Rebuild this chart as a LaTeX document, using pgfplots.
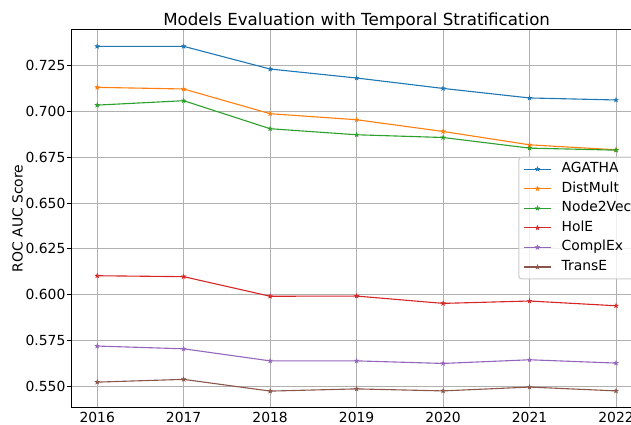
\documentclass[border=0pt]{standalone}
\usepackage{fontspec}
\setmainfont{DejaVu Sans}
\usepackage{pgfplots}
\pgfplotsset{compat=1.18}
\definecolor{c0}{HTML}{1F77B4}
\definecolor{c1}{HTML}{FF7F0E}
\definecolor{c2}{HTML}{2CA02C}
\definecolor{c3}{HTML}{D62728}
\definecolor{c4}{HTML}{9467BD}
\definecolor{c5}{HTML}{8C564B}
\definecolor{gridc}{HTML}{B0B0B0}
\definecolor{legc}{HTML}{CCCCCC}
\pgfdeclareplotmark{mplstar}{%
  \pgfpathmoveto{\pgfpointpolar{90}{\pgfplotmarksize}}%
  \pgfpathlineto{\pgfpointpolar{126}{0.382\pgfplotmarksize}}%
  \pgfpathlineto{\pgfpointpolar{162}{\pgfplotmarksize}}%
  \pgfpathlineto{\pgfpointpolar{198}{0.382\pgfplotmarksize}}%
  \pgfpathlineto{\pgfpointpolar{234}{\pgfplotmarksize}}%
  \pgfpathlineto{\pgfpointpolar{270}{0.382\pgfplotmarksize}}%
  \pgfpathlineto{\pgfpointpolar{306}{\pgfplotmarksize}}%
  \pgfpathlineto{\pgfpointpolar{342}{0.382\pgfplotmarksize}}%
  \pgfpathlineto{\pgfpointpolar{18}{\pgfplotmarksize}}%
  \pgfpathlineto{\pgfpointpolar{54}{0.382\pgfplotmarksize}}%
  \pgfpathclose\pgfusepathqfillstroke}
\begin{document}
\begin{tikzpicture}
\begin{axis}[
  scale only axis, width=410.9pt, height=272.2pt,
  xmin=2015.7, xmax=2022.3, ymin=0.5384, ymax=0.7449,
  xtick={2016,2017,2018,2019,2020,2021,2022},
  ytick={0.550,0.575,0.600,0.625,0.650,0.675,0.700,0.725},
  grid=major, major grid style={color=gridc, line width=0.75pt},
  axis line style={line width=0.8pt},
  tick align=inside, tick pos=left, major tick length=3.4pt,
  xtick style={draw=none},
  ytick style={black, line width=0.8pt, xshift=-3.4pt},
  /pgf/number format/assume math mode=true,
  xticklabel style={font=\fontsize{10}{12}\selectfont, /pgf/number format/1000 sep={},
    anchor=north, inner sep=0pt, yshift=-3.4pt},
  yticklabel style={font=\fontsize{10}{12}\selectfont, anchor=east, inner sep=0pt, xshift=-4pt,
    /pgf/number format/fixed, /pgf/number format/fixed zerofill, /pgf/number format/precision=3},
  ylabel={ROC AUC Score},
  ylabel style={font=\fontsize{10}{12}\selectfont, at={(rel axis cs:0,0.5)}, anchor=center, yshift=38.7pt},
  title={Models Evaluation with Temporal Stratification},
  title style={font=\fontsize{12}{14}\selectfont, at={(0.5,1)}, anchor=base, yshift=-3.6pt},
  every axis plot/.append style={line width=0.8pt, mark=mplstar, mark size=1.7pt, mark options={line width=0.3pt}},
  legend cell align=left,
  legend image code/.code={\draw[mark repeat=2,mark phase=2,#1] plot coordinates {(0pt,0pt)(10pt,0pt)(20pt,0pt)};},
  legend style={at={(0.7833,0.663)}, anchor=north west, draw=legc, line width=0.8pt,
    rounded corners=2pt, fill=white, fill opacity=0.8, text opacity=1,
    font=\fontsize{10}{12}\selectfont, inner xsep=3pt, inner ysep=2pt, row sep=1.1pt,
    nodes={inner xsep=2pt, inner ysep=1.5pt, text height=7.5pt, text depth=2.5pt},
    /tikz/every odd column/.append style={column sep=5pt}},
]
\addplot[color=c0] coordinates {(2016,0.7356)(2017,0.7356)(2018,0.7232)(2019,0.7183)(2020,0.7126)(2021,0.7074)(2022,0.7063)};
\addlegendentry{AGATHA}
\addplot[color=c1] coordinates {(2016,0.7132)(2017,0.7123)(2018,0.6988)(2019,0.6955)(2020,0.6891)(2021,0.6818)(2022,0.6791)};
\addlegendentry{DistMult}
\addplot[color=c2] coordinates {(2016,0.7035)(2017,0.7059)(2018,0.6906)(2019,0.6873)(2020,0.6858)(2021,0.6800)(2022,0.6789)};
\addlegendentry{Node2Vec}
\addplot[color=c3] coordinates {(2016,0.6103)(2017,0.6098)(2018,0.5991)(2019,0.5992)(2020,0.5952)(2021,0.5965)(2022,0.5939)};
\addlegendentry{HolE}
\addplot[color=c4] coordinates {(2016,0.5719)(2017,0.5704)(2018,0.5638)(2019,0.5638)(2020,0.5624)(2021,0.5644)(2022,0.5626)};
\addlegendentry{ComplEx}
\addplot[color=c5] coordinates {(2016,0.5522)(2017,0.5537)(2018,0.5473)(2019,0.5485)(2020,0.5474)(2021,0.5495)(2022,0.5474)};
\addlegendentry{TransE}
\coordinate (sw) at (rel axis cs:0,0);
\end{axis}
\pgfresetboundingbox
\path[use as bounding box] ([shift={(-51.3pt,-12.0pt)}]sw) rectangle ([shift={(403.0pt,293.3pt)}]sw);
\end{tikzpicture}
\end{document}
